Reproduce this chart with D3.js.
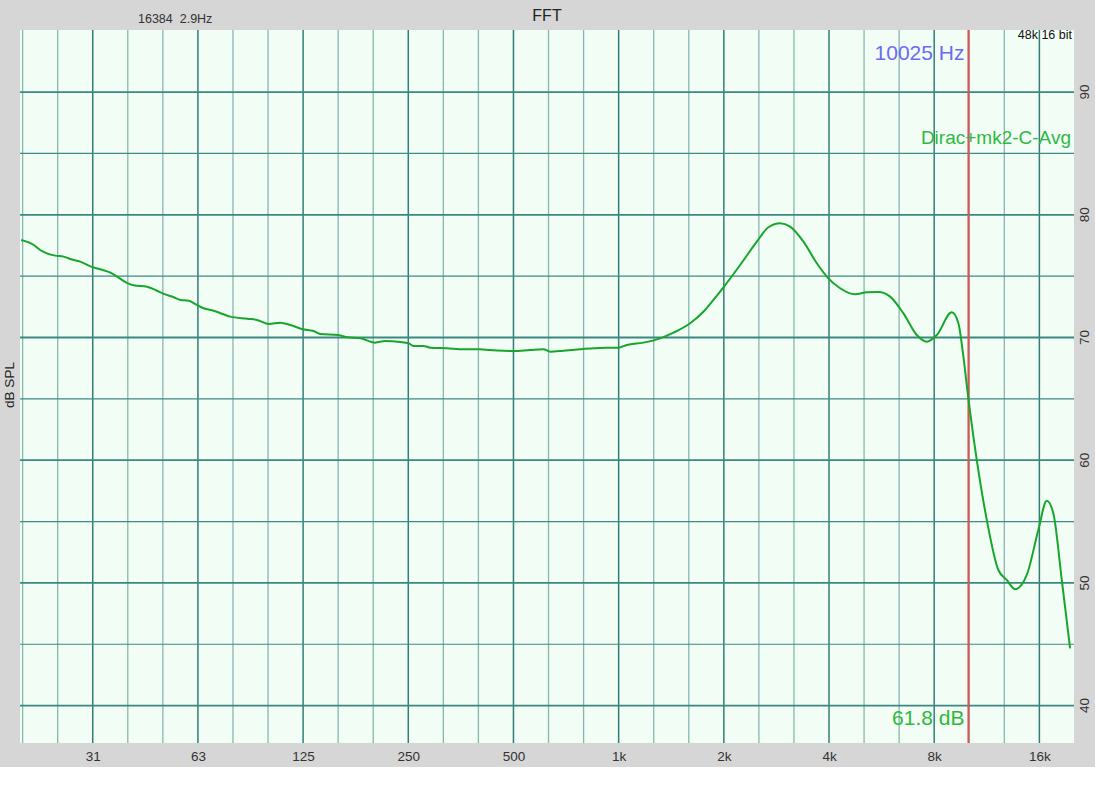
<!DOCTYPE html>
<html><head><meta charset="utf-8">
<script src="https://cdn.jsdelivr.net/npm/d3@7/dist/d3.min.js"></script>
<style>html,body{margin:0;padding:0;background:#fff;}svg{display:block;}</style>
</head><body>
<script>
// ---- data ----
const freqHz = [19.5, 21.2, 22.1, 23.1, 24.4, 25.8, 26.9, 28.8, 30.9, 32.8, 35.1, 36.7, 39.0, 40.9, 44.7, 47.7, 49.9, 53.3, 55.7, 58.8,
  62.1, 64.9, 69.3, 77.4, 86.4, 92.3, 99.9, 107.6, 114.9, 124.8, 133.9, 140, 157.6, 167.2, 182.6, 200.8, 214.6, 237, 250.3, 258.7,
  276.3, 288.9, 322.4, 359.8, 400.9, 427.3, 468.2, 500, 558.4, 609.2, 636.8, 695, 775.9, 846.7, 925.3, 998.6, 1055, 1177, 1315, 1435,
  1602, 1748, 1867, 1995, 2227, 2486, 2683, 2898, 3095, 3379, 3691, 3984, 4304, 4752, 5131, 5540, 5983, 6531, 7133, 7620,
  8140, 8983, 9382, 9697, 9980, 10590, 11314, 12210, 12906, 13631, 14725, 15890, 16795, 17540, 18545, 19590];
const splDb = [77.95, 77.54, 77.13, 76.86, 76.67, 76.59, 76.40, 76.18, 75.77, 75.56, 75.28, 74.96, 74.47, 74.25, 74.14, 73.81, 73.55, 73.28, 73.06, 73.00,
  72.65, 72.38, 72.18, 71.70, 71.53, 71.43, 71.10, 71.21, 71.02, 70.67, 70.53, 70.29, 70.20, 70.02, 69.93, 69.58, 69.71, 69.63, 69.53, 69.31,
  69.31, 69.17, 69.12, 69.04, 69.04, 68.98, 68.92, 68.90, 68.98, 69.04, 68.84, 68.92, 69.04, 69.12, 69.17, 69.17, 69.39, 69.58, 69.93, 70.39,
  71.16, 72.10, 73.06, 74.09, 75.91, 77.81, 78.98, 79.31, 79.03, 77.81, 76.05, 74.82, 74.01, 73.52, 73.68, 73.71, 73.33, 71.97, 70.20, 69.66,
  70.20, 72.05, 71.16, 68.44, 65.45, 60.02, 55.13, 51.05, 50.24, 49.48, 50.65, 54.31, 56.70, 55.67, 50.24, 44.67];
const xTickValues = [31.25, 62.5, 125, 250, 500, 1000, 2000, 4000, 8000, 16000];
const xTickLabels = ["31", "63", "125", "250", "500", "1k", "2k", "4k", "8k", "16k"];
const yTickValues = [40, 50, 60, 70, 80, 90];
const yMinorValues = [45, 55, 65, 75, 85];
const cursorHz = 10025;
const cursorLabel = "10025 Hz";
const cursorDbLabel = "61.8 dB";
const seriesName = "Dirac+mk2-C-Avg";
const title = "FFT";
const fftInfo = "16384  2.9Hz";
const rateInfo = "48k 16 bit";
const yTitle = "dB SPL";

// ---- layout ----
const W = 1095, H = 800;
const L = 20, R = 1074, T = 30, B = 743;
const font = "'Liberation Sans', Arial, Helvetica, sans-serif";

const svg = d3.select("body").append("svg").attr("width", W).attr("height", H);
svg.append("rect").attr("x", 0).attr("y", 0).attr("width", W).attr("height", 767).attr("fill", "#d6d6d6");
svg.append("rect").attr("x", L).attr("y", T).attr("width", R - L).attr("height", B - T).attr("fill", "#f2fdf6");

const x = d3.scaleLog().domain([19.35, 20100]).range([L, R]);
const y = d3.scaleLinear().domain([36.95, 95.06]).range([B, T]);

const g = svg.append("g");
// vertical third-octave grid
const thirds = d3.range(-18, 14).map(k => 1000 * Math.pow(2, k / 3)).filter(f => x(f) > L + 2 && x(f) < R - 1);
g.selectAll("line.vminor").data(thirds.filter(f => Math.abs(Math.log2(f / 1000) - Math.round(Math.log2(f / 1000))) > 0.01))
  .join("line").attr("x1", d => x(d)).attr("x2", d => x(d)).attr("y1", T).attr("y2", B)
  .attr("stroke", "#86b7b1").attr("stroke-width", 1.3);
g.selectAll("line.vmajor").data(xTickValues).join("line")
  .attr("x1", d => x(d)).attr("x2", d => x(d)).attr("y1", T).attr("y2", B)
  .attr("stroke", "#2f7f77").attr("stroke-width", 1.5);
// horizontal grid
g.selectAll("line.hminor").data(yMinorValues).join("line")
  .attr("x1", L).attr("x2", R).attr("y1", d => y(d)).attr("y2", d => y(d))
  .attr("stroke", "#3f8a82").attr("stroke-width", 1.2);
g.selectAll("line.hmajor").data(yTickValues).join("line")
  .attr("x1", L).attr("x2", R).attr("y1", d => y(d)).attr("y2", d => y(d))
  .attr("stroke", "#3a8880").attr("stroke-width", 1.8);

// axes (labels only)
const xAxis = d3.axisBottom(x).tickValues(xTickValues).tickFormat((d, i) => xTickLabels[i]).tickSize(0).tickPadding(8);
const xa = svg.append("g").attr("transform", `translate(0,${B})`).call(xAxis);
xa.select(".domain").remove();
xa.selectAll("text").attr("font-family", font).attr("font-size", 13.5).attr("fill", "#333");

const ya = svg.append("g");
ya.selectAll("text").data(yTickValues).join("text")
  .attr("transform", d => `translate(1089,${y(d)}) rotate(-90)`)
  .attr("text-anchor", "middle").attr("font-family", font).attr("font-size", 13.5).attr("fill", "#333")
  .text(d => d);

// cursor line
svg.append("line").attr("x1", x(cursorHz)).attr("x2", x(cursorHz)).attr("y1", T).attr("y2", B)
  .attr("stroke", "#e0524f").attr("stroke-width", 2);

// curve
const pts = freqHz.map((f, i) => [f, splDb[i]]);
svg.append("path").datum(pts)
  .attr("d", d3.line().x(d => x(d[0])).y(d => y(d[1])).curve(d3.curveMonotoneX))
  .attr("fill", "none").attr("stroke", "#17a62b").attr("stroke-width", 2).attr("stroke-linejoin", "round");

// texts
svg.append("text").attr("x", 547).attr("y", 21).attr("text-anchor", "middle").attr("font-family", font)
  .attr("font-size", 16).attr("fill", "#222").text(title);
svg.append("text").attr("x", 138).attr("y", 23).attr("font-family", font)
  .attr("font-size", 12.5).attr("fill", "#333").style("white-space", "pre").text(fftInfo);
svg.append("text").attr("x", 1072).attr("y", 39).attr("text-anchor", "end").attr("font-family", font)
  .attr("font-size", 12.5).attr("fill", "#111").text(rateInfo);
svg.append("text").attr("x", x(cursorHz) - 4).attr("y", 60).attr("text-anchor", "end").attr("font-family", font)
  .attr("font-size", 21).attr("fill", "#6b6bf0").text(cursorLabel);
svg.append("text").attr("x", 1071).attr("y", 144).attr("text-anchor", "end").attr("font-family", font)
  .attr("font-size", 19).attr("fill", "#2fb844").text(seriesName);
svg.append("text").attr("x", x(cursorHz) - 4).attr("y", 725).attr("text-anchor", "end").attr("font-family", font)
  .attr("font-size", 21).attr("fill", "#2fb83a").text(cursorDbLabel);
svg.append("text").attr("transform", `translate(14,${385}) rotate(-90)`).attr("text-anchor", "middle")
  .attr("font-family", font).attr("font-size", 13.5).attr("fill", "#222").text(yTitle);
</script>
</body></html>
